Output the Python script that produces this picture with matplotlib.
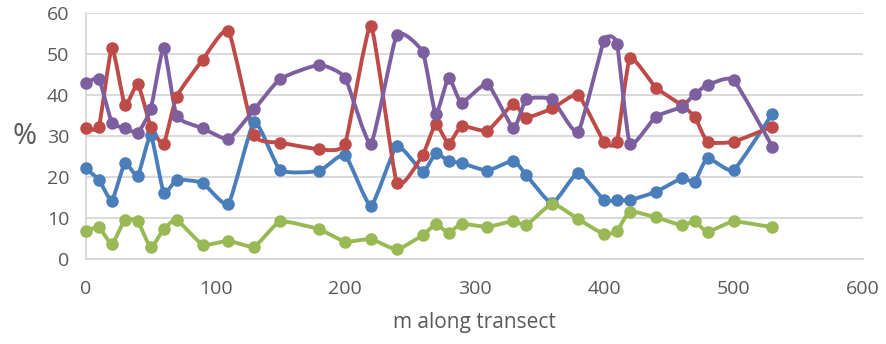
import numpy as np
import matplotlib
matplotlib.use("Agg")
import matplotlib.pyplot as plt
from matplotlib.path import Path
from matplotlib.patches import PathPatch

# Distance along the transect (m)
distance = [0, 10, 20, 30, 40, 50, 60, 70, 90, 110, 130, 150, 180, 200, 220,
            240, 260, 270, 280, 290, 310, 330, 340, 360, 380, 400, 410, 420,
            440, 460, 470, 480, 500, 530]

blue_pct = [22.1, 19.3, 14.3, 23.4, 20.3, 30.2, 16.2, 19.3, 18.6, 13.5, 33.5,
            21.7, 21.5, 25.4, 13.0, 27.6, 21.3, 25.8, 23.9, 23.4, 21.6, 24.0,
            20.5, 13.6, 21.1, 14.4, 14.4, 14.4, 16.4, 19.7, 18.9, 24.7, 21.7,
            35.4]
red_pct = [31.9, 32.3, 51.5, 37.5, 42.6, 32.3, 28.1, 39.6, 48.5, 55.6, 30.2,
           28.4, 26.8, 28.1, 56.8, 18.6, 25.4, 32.9, 28.1, 32.4, 31.3, 37.8,
           34.5, 36.7, 40.0, 28.6, 28.6, 48.9, 41.8, 37.5, 34.7, 28.6, 28.6,
           32.3]
green_pct = [6.9, 7.8, 3.7, 9.6, 9.2, 2.9, 7.3, 9.6, 3.6, 4.5, 3.1, 9.2, 7.3,
             4.3, 4.9, 2.4, 5.9, 8.5, 6.5, 8.6, 7.9, 9.3, 8.3, 13.5, 9.8, 6.1,
             6.9, 11.6, 10.2, 8.3, 9.2, 6.7, 9.2, 7.8]
purple_pct = [42.8, 43.9, 33.2, 32.0, 30.8, 36.6, 51.5, 34.9, 31.9, 29.3, 36.5,
              43.9, 47.3, 44.2, 28.1, 54.6, 50.4, 35.3, 44.2, 38.1, 42.7, 31.9,
              38.9, 38.9, 31.0, 53.2, 52.5, 28.1, 34.7, 37.1, 40.2, 42.4, 43.6,
              27.4]

series = [
    (blue_pct, "#4A7EBB"),
    (red_pct, "#BE4B48"),
    (green_pct, "#98B954"),
    (purple_pct, "#7D5FA0"),
]

x_ticks = [0, 100, 200, 300, 400, 500, 600]
y_ticks = [0, 10, 20, 30, 40, 50, 60]

plt.rcParams["font.family"] = ["Open Sans", "DejaVu Sans"]
text_grey = "#595959"


def smooth_path(xs, ys, tension=0.08):
    """Cubic Bezier path through the points with gentle smoothing."""
    pts = np.column_stack([xs, ys]).astype(float)
    n = len(pts)
    verts = [pts[0]]
    codes = [Path.MOVETO]
    for i in range(n - 1):
        p0 = pts[i - 1] if i > 0 else pts[i]
        p1 = pts[i]
        p2 = pts[i + 1]
        p3 = pts[i + 2] if i + 2 < n else pts[i + 1]
        c1 = p1 + (p2 - p0) * tension
        c2 = p2 - (p3 - p1) * tension
        verts += [c1, c2, p2]
        codes += [Path.CURVE4] * 3
    return Path(verts, codes)


fig = plt.figure(figsize=(8.86, 3.44), dpi=100)
ax = fig.add_axes([86 / 886, 1 - 259.3 / 344, 777 / 886, (259.3 - 12.7) / 344])

for values, color in series:
    patch = PathPatch(smooth_path(distance, values), facecolor="none",
                      edgecolor=color, linewidth=2.8, capstyle="round",
                      joinstyle="round", zorder=3)
    ax.add_patch(patch)
    ax.plot(distance, values, linestyle="none", marker="o", markersize=8,
            color=color, zorder=4, clip_on=False)

ax.set_xlim(0, 600)
ax.set_ylim(0, 60)
ax.set_xticks(x_ticks)
ax.set_yticks(y_ticks)
ax.grid(axis="y", color="#D9D9D9", linewidth=1.4)
ax.set_axisbelow(True)

for side in ("top", "right"):
    ax.spines[side].set_visible(False)
for side in ("left", "bottom"):
    ax.spines[side].set_color("#D9D9D9")
    ax.spines[side].set_linewidth(1.4)

ax.tick_params(axis="both", length=0, labelsize=14, labelcolor=text_grey)
ax.tick_params(axis="x", pad=15)
ax.tick_params(axis="y", pad=12)

ax.set_xlabel("m along transect", fontsize=15, color=text_grey, labelpad=10)
ax.set_ylabel("%", fontsize=21, color=text_grey, rotation=0, labelpad=16,
              va="center")

fig.savefig("out.png", dpi=100)
